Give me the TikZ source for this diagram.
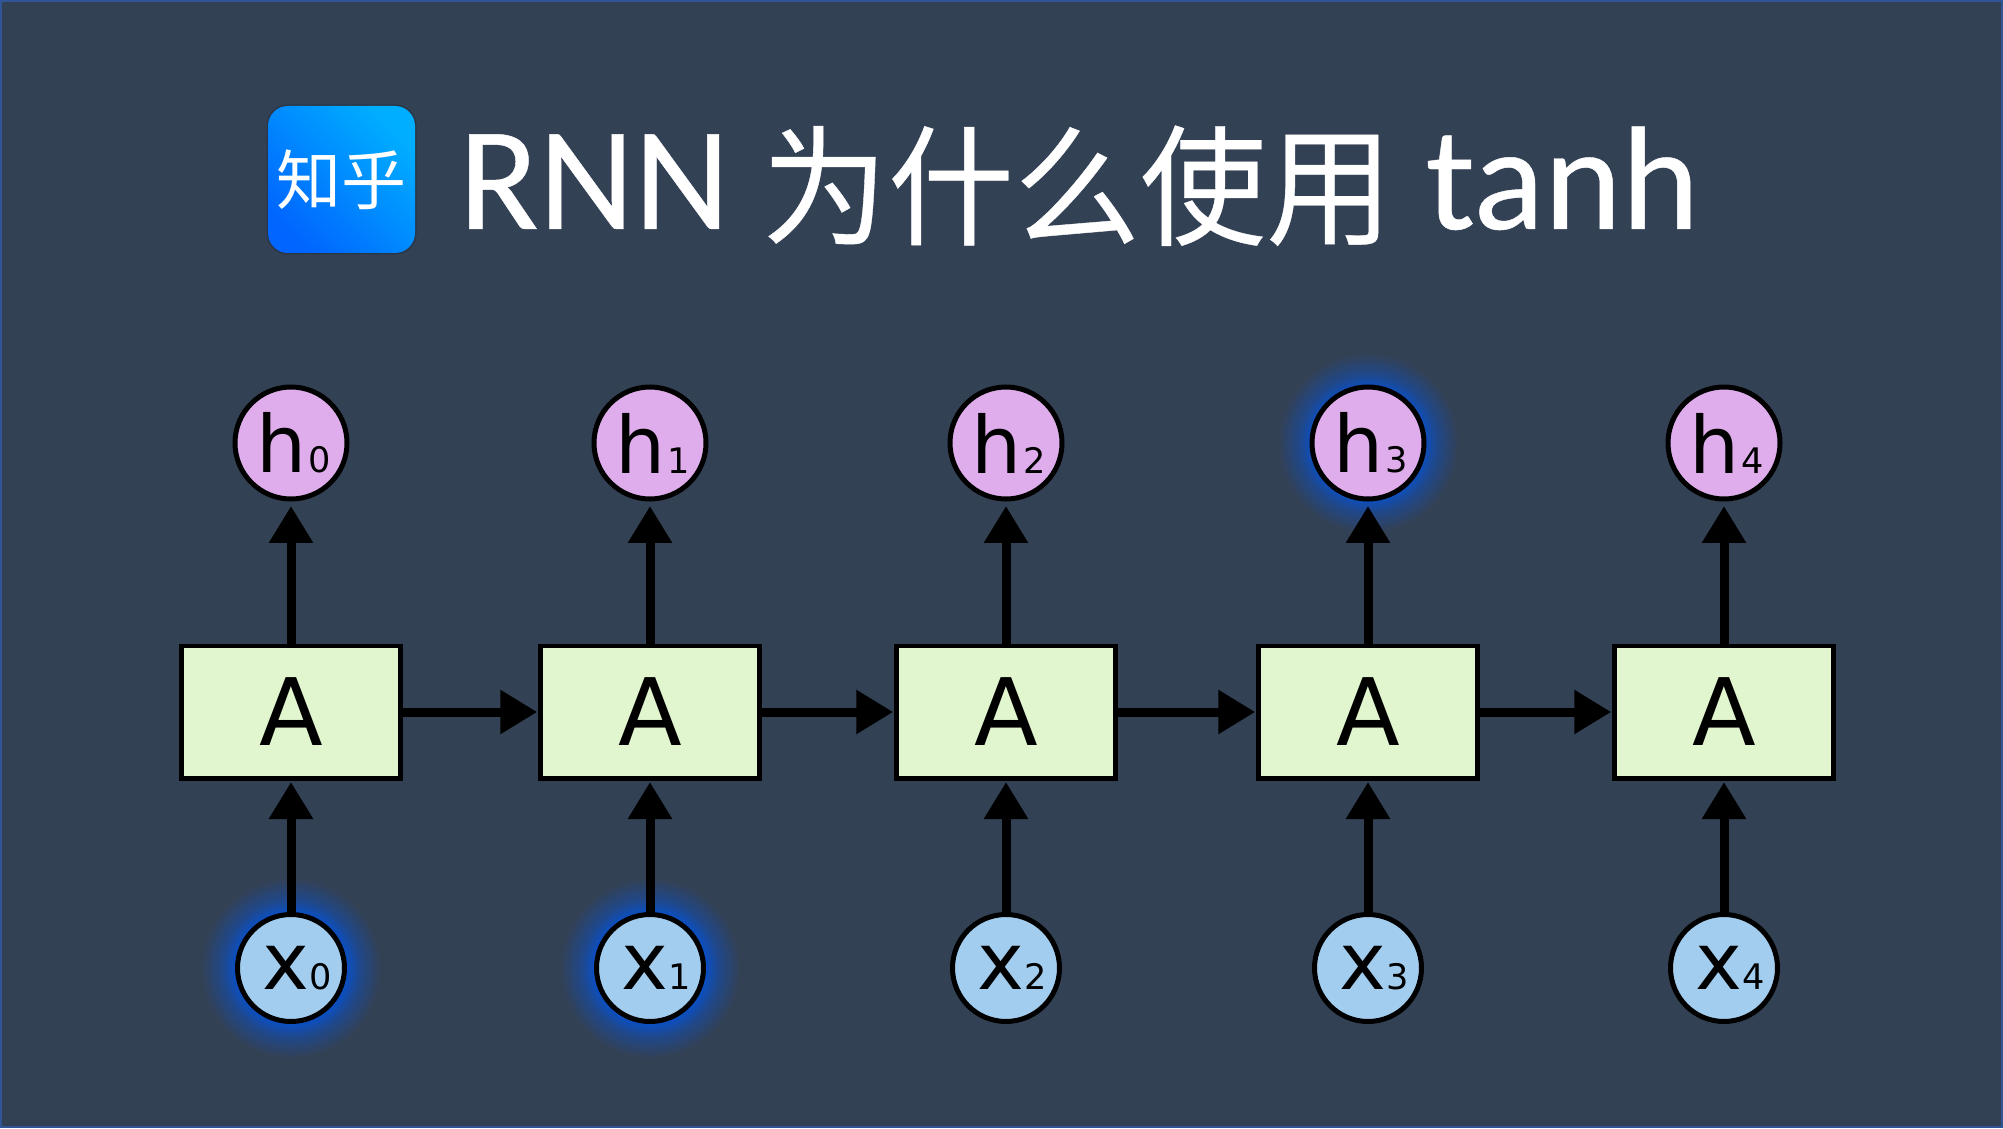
\documentclass[tikz,border=0pt]{standalone}
\usepackage{fontspec}
\setmainfont{DejaVu Sans}
\newfontfamily\cjk{Noto Sans CJK SC}
\newfontfamily\cjkheavy[FakeBold=0.3]{Noto Sans CJK SC}
\newfontfamily\titlefont[FakeBold=0.3]{Carlito}
\usetikzlibrary{arrows.meta}
\definecolor{bgslate}{HTML}{334155}
\definecolor{framec}{HTML}{2F5597}
\definecolor{cellc}{HTML}{E1F5CE}
\definecolor{outc}{HTML}{DFADEC}
\definecolor{inc}{HTML}{A3CDEE}
\definecolor{glowc}{HTML}{0B4FC2}
\definecolor{logohi}{HTML}{00AEFF}
\definecolor{logolo}{HTML}{0066FF}
\pgfdeclareradialshading{glowshade}{\pgfpointorigin}{
  color(0bp)=(glowc); color(15.5bp)=(glowc); color(19bp)=(glowc!50!bgslate); color(25bp)=(bgslate); color(50bp)=(bgslate)}
\tikzset{
  cell/.style={draw=black,fill=cellc,line width=0.045cm,minimum width=2.19cm,minimum height=1.325cm,inner sep=0pt},
  outnode/.style={circle,draw=black,fill=outc,line width=0.05cm,minimum size=1.12cm,inner sep=0pt},
  innode/.style={circle,draw=black,fill=inc,line width=0.05cm,minimum size=1.07cm,inner sep=0pt},
  flow/.style={line width=0.09cm,-{Triangle[length=0.37cm,width=0.42cm]}},
  titletext/.style={text=white,anchor=base west,inner sep=0pt}
}
\newcommand{\bigsym}{\fontsize{22.5pt}{22.5pt}\selectfont}
\newcommand{\smallsym}{\fontsize{10pt}{10pt}\selectfont}

\begin{document}
\begin{tikzpicture}
\useasboundingbox (0,0) rectangle (20.03,11.28);
\fill[framec] (0,0) rectangle (20.03,11.28);
\fill[bgslate] (0.02,0.02) rectangle (20.01,11.26);
\fill[black,opacity=0.15,rounded corners=0.21cm] (2.665,8.735) rectangle (4.165,10.235);
\shade[rounded corners=0.2cm,top color=logohi,middle color=logolo,bottom color=logolo,shading angle=-45] (2.68,8.75) rectangle (4.15,10.22);
\node[text=white,inner sep=0pt] (logo) at (3.415,9.48) {\cjk\fontsize{18.5pt}{18.5pt}\selectfont 知乎};
\node[titletext] (tone) at (4.58,8.99) {\titlefont\fontsize{42pt}{42pt}\selectfont RNN};
\node[titletext,xscale=0.97,transform shape] (ttwo) at (7.61,8.93) {\cjkheavy\fontsize{37pt}{37pt}\selectfont 为什么使用};
\node[titletext] (tthree) at (14.25,8.99) {\titlefont\fontsize{42pt}{42pt}\selectfont tanh};
\foreach \gx/\gy in {13.68/6.85,2.91/1.60,6.50/1.60}
  \shade[shading=glowshade] (\gx,\gy) circle (0.9);
\foreach \n/\px in {0/2.91,1/6.50,2/10.06,3/13.68,4/17.24} {
  \node[outnode] (h\n) at (\px,6.85) {\hspace*{0.05cm}{\bigsym h}\kern0.6pt{\smallsym\n}};
  \node[cell] (a\n) at (\px,4.16) {\fontsize{26.5pt}{26.5pt}\selectfont A};
  \node[innode] (x\n) at (\px,1.60) {\hspace*{0.13cm}{\bigsym x}{\smallsym\n}};
  \draw[flow,shorten >=0.045cm] (a\n) -- (h\n);
  \draw[flow,shorten >=0.015cm] (x\n) -- (a\n);
}
\foreach \n/\m in {0/1,1/2,2/3,3/4}
  \draw[flow,shorten >=0.01cm] (a\n) -- (a\m);
\end{tikzpicture}
\end{document}
